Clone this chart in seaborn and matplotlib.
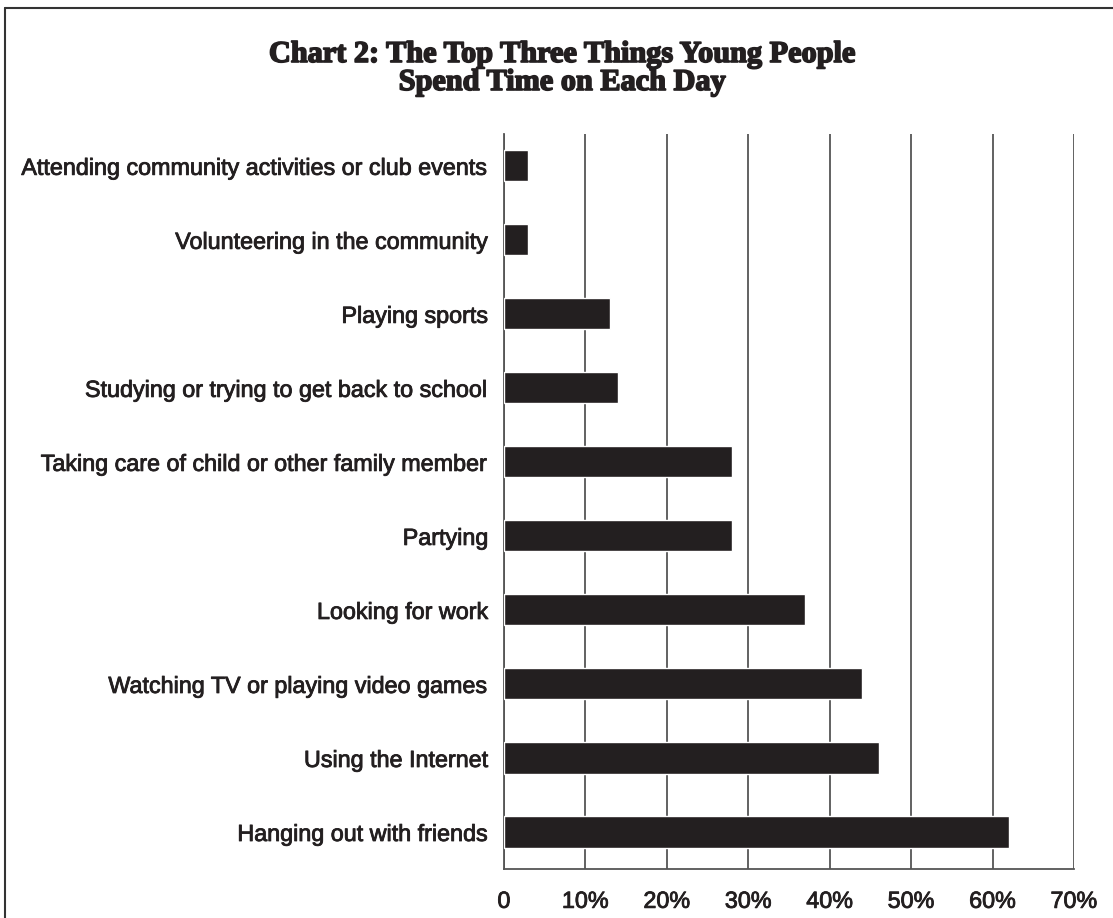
import matplotlib
matplotlib.use("Agg")
import matplotlib.pyplot as plt
import matplotlib.patheffects as pe
import seaborn as sns
import pandas as pd
from matplotlib.lines import Line2D

categories = [
    "Attending community activities or club events",
    "Volunteering in the community",
    "Playing sports",
    "Studying or trying to get back to school",
    "Taking care of child or other family member",
    "Partying",
    "Looking for work",
    "Watching TV or playing video games",
    "Using the Internet",
    "Hanging out with friends",
]
values = [3, 3, 13, 14, 28, 28, 37, 44, 46, 62]
xticks = [0, 10, 20, 30, 40, 50, 60, 70]
xtick_labels = ["0", "10%", "20%", "30%", "40%", "50%", "60%", "70%"]
title_lines = ["Chart 2: The Top Three Things Young People", "Spend Time on Each Day"]

df = pd.DataFrame({"category": categories, "value": values})

sns.set_theme(style="white")
plt.rcParams["font.family"] = ["Liberation Sans", "DejaVu Sans"]

INK = "#231f20"
fig = plt.figure(figsize=(11.13, 9.18), dpi=100)
ax = fig.add_axes([504 / 1113, 1 - 869 / 918, (1074 - 504) / 1113, (869 - 134) / 918])

sns.barplot(data=df, x="value", y="category", order=categories, color=INK,
            saturation=1, width=0.42, ax=ax, zorder=3)

ax.set_xlim(0, 70)
ax.set_ylim(9.5, -0.43)
ax.set_xticks(xticks)
ax.set_xticklabels(xtick_labels, fontsize=16.8, color=INK)
ax.set_xlabel("")
ax.set_ylabel("")
ax.tick_params(axis="y", length=0, pad=11, labelsize=16.8, labelcolor=INK)
ax.tick_params(axis="x", length=8, width=1.2, color="#555555", pad=7, direction="out")
stroke = [pe.withStroke(linewidth=0.6, foreground=INK)]
for lab in ax.get_yticklabels() + ax.get_xticklabels():
    lab.set_path_effects(stroke)
ax.xaxis.grid(True, color="#555555", linewidth=1.3, zorder=0)
ax.yaxis.grid(False)
for s in ["top", "right"]:
    ax.spines[s].set_visible(False)
ax.spines["left"].set_color("#555555")
ax.spines["left"].set_linewidth(1.3)
ax.spines["bottom"].set_color("#555555")
ax.spines["bottom"].set_linewidth(1.3)

tstroke = [pe.withStroke(linewidth=1.2, foreground=INK)]
for line, base in zip(title_lines, [62, 90]):
    fig.text(562 / 1113, 1 - base / 918, line, ha="center", va="baseline", fontsize=21.8,
             fontweight="bold", family=["Liberation Serif", "DejaVu Serif"],
             color=INK, path_effects=tstroke)

# frame border (top and left visible)
fig.add_artist(Line2D([5 / 1113, 5 / 1113], [0, 1 - 8 / 918], transform=fig.transFigure,
                      color="#333333", linewidth=1.5))
fig.add_artist(Line2D([5 / 1113, 1], [1 - 8 / 918, 1 - 8 / 918], transform=fig.transFigure,
                      color="#333333", linewidth=1.5))

fig.savefig("out.png", dpi=100)
